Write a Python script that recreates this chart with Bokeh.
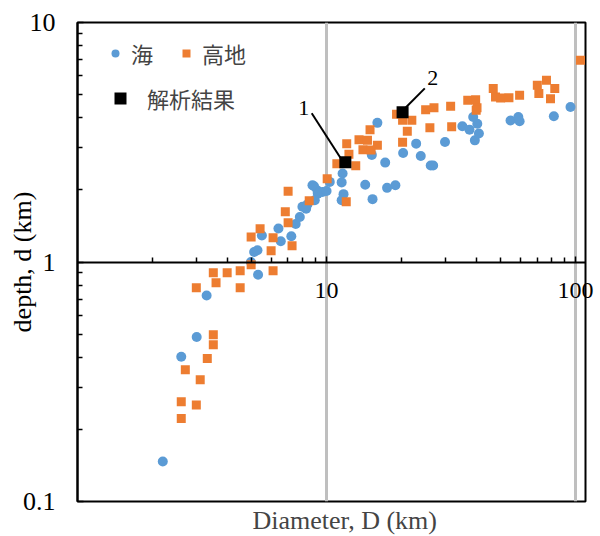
from bokeh.plotting import figure
from bokeh.models import (FixedTicker, CustomJSTickFormatter, Legend, LegendItem, Title)
from bokeh.embed import file_html
from bokeh.resources import INLINE
from bokeh.core.properties import value

# ---- data ----
sea_D = [2.20, 2.61, 3.01, 3.30, 5.31, 4.97, 5.12, 5.28, 5.50, 6.41, 6.55, 7.22, 7.52, 7.81,
         8.00, 8.28, 8.91, 9.19, 9.22, 8.97, 9.63, 10.0, 10.3, 11.6, 11.5, 11.7, 11.5, 14.3,
         15.3, 17.5, 18.9, 16.0, 17.2, 15.2, 20.3, 22.9, 23.9, 26.2, 26.8, 29.9, 35.1, 37.5,
         39.4, 38.8, 40.3, 40.9, 54.8, 58.9, 59.6, 81.8, 95.4, 8.38, 8.78]
sea_d = [0.147, 0.402, 0.486, 0.725, 0.885, 1.00, 1.10, 1.12, 1.29, 1.38, 1.22, 1.28, 1.44, 1.54,
         1.70, 1.67, 2.07, 1.99, 1.93, 1.81, 1.96, 1.98, 2.16, 2.34, 2.15, 1.92, 1.81, 2.10,
         1.83, 2.04, 2.09, 3.81, 2.60, 2.80, 2.85, 3.12, 2.77, 2.53, 2.53, 3.17, 3.69, 3.57,
         3.22, 4.03, 3.78, 3.44, 3.90, 4.03, 3.87, 4.06, 4.44, 1.74, 2.09]

high_D = [2.61, 2.61, 3.00, 3.11, 2.71, 3.32, 3.51, 3.51, 3.00, 3.60, 4.50, 3.51, 3.99, 4.50,
          4.98, 6.10, 5.99, 4.98, 5.41, 6.10, 7.27, 6.83, 7.01, 7.01, 8.52, 10.06, 11.0, 12.0,
          13.1, 12.3, 12.05, 13.5, 14.6, 14.95, 16.0, 14.0, 15.1, 19.1, 20.2, 22.0, 21.1, 20.2,
          25.0, 27.0, 31.5, 26.0, 31.8, 36.9, 39.7, 40.2, 39.9, 46.7, 47.7, 50.0, 54.0, 59.6,
          70.2, 71.2, 76.4, 82.5, 79.3, 104.6]
high_d = [0.261, 0.222, 0.253, 0.322, 0.355, 0.395, 0.497, 0.451, 0.781, 0.820, 0.781, 0.902, 0.902, 0.920,
          0.974, 0.920, 1.115, 1.273, 1.378, 1.264, 1.170, 1.622, 1.459, 1.972, 1.803, 2.224, 2.569, 1.786,
          2.520, 2.815, 3.12, 3.236, 3.221, 3.569, 3.069, 2.939, 2.933, 4.136, 3.904, 3.904, 3.512, 3.160,
          4.327, 4.411, 4.467, 3.639, 3.667, 4.732, 4.755, 4.411, 4.298, 5.296, 4.884, 4.837, 4.856, 4.965,
          5.467, 5.047, 5.736, 5.296, 4.81, 6.953]

res_D = [11.9, 20.2]
res_d = [2.61, 4.22]
res_labels = ["1", "2"]
label_D = [8.10, 26.7]
label_d = [4.38, 5.85]
leader_D0 = [8.72, 24.8]
leader_d0 = [4.18, 5.31]
leader_D1 = [11.4, 20.8]
leader_d1 = [2.71, 4.42]

x_major = [10, 100]
x_tick_labels = ["10", "100"]
x_minor = [2, 3, 4, 5, 6, 7, 8, 9, 20, 30, 40, 50, 60, 70, 80, 90]
x_axis_at = 1
y_major = [0.1, 1, 10]
y_minor = [0.2, 0.3, 0.4, 0.5, 0.6, 0.7, 0.8, 0.9, 2, 3, 4, 5, 6, 7, 8, 9]

SERIF = "Liberation Serif"
CJK = "Noto Sans CJK JP"

p = figure(x_axis_type="log", y_axis_type="log", x_range=(1, 109.6), y_range=(0.1, 10),
           frame_width=508, frame_height=479, min_border_left=77, min_border_top=22,
           min_border_right=13, min_border_bottom=0,
           output_backend="svg", toolbar_location=None)
p.title.visible = False
p.outline_line_color = "black"
p.outline_line_width = 2
p.outline_line_alpha = 1

fmt = CustomJSTickFormatter(code="return tick.toString();")

xt = FixedTicker(ticks=x_major, minor_ticks=x_minor)
xa = p.xaxis[0]
xa.ticker = xt
xa.formatter = fmt
xa.fixed_location = x_axis_at
xa.axis_line_width = 2
xa.major_tick_in = 6
xa.major_tick_out = 0
xa.minor_tick_in = 5
xa.minor_tick_out = 0
xa.major_tick_line_width = 1.5
xa.minor_tick_line_width = 1.5
# the axis sits inside the frame and is clipped to it; its labels are drawn unclipped below
xa.major_label_text_alpha = 0

p.xgrid.ticker = xt
p.xgrid.grid_line_color = "#bfbfbf"
p.xgrid.grid_line_width = 3
p.ygrid.visible = False

yt = FixedTicker(ticks=y_major, minor_ticks=y_minor)
ya = p.yaxis[0]
ya.ticker = yt
ya.formatter = fmt
ya.axis_line_width = 2
ya.major_tick_in = 6
ya.major_tick_out = 0
ya.minor_tick_in = 5
ya.minor_tick_out = 0
ya.major_tick_line_width = 1.5
ya.minor_tick_line_width = 1.5
ya.major_label_standoff = 22
ya.major_label_text_font = SERIF
ya.major_label_text_font_size = "26px"
ya.major_label_text_color = "black"
ya.axis_label = "depth, d (km)"
ya.axis_label_text_font = SERIF
ya.axis_label_text_font_size = "26px"
ya.axis_label_text_font_style = "normal"
ya.axis_label_text_color = "black"
ya.axis_label_standoff = -17

p.add_layout(Title(text="Diameter, D (km)", align="left", text_font=SERIF,
                   text_font_size="26px", text_font_style="normal", standoff=5, offset=175),
             "below")

r_sea = p.scatter(sea_D, sea_d, marker="circle", size=10, fill_color="#5B9BD5", line_color=None)
r_high = p.scatter(high_D, high_d, marker="square", size=9, fill_color="#ED7D31", line_color=None)
r_res = p.scatter(res_D, res_d, marker="square", size=12, fill_color="black", line_color=None)

p.segment(x0=leader_D0, y0=leader_d0, x1=leader_D1, y1=leader_d1, line_color="black", line_width=2)
p.text(x=label_D, y=label_d, text=res_labels, text_font=value(SERIF), text_font_size="22px",
       text_align="center", text_baseline="middle", text_color="black")

# x tick labels under the inner axis line (not clipped to the frame)
p.text(x=x_major, y=[x_axis_at] * len(x_major), text=x_tick_labels, text_font=value(SERIF),
       text_font_size="24px", text_align="center", text_baseline="top", y_offset=21,
       text_color="black", level="annotation")

leg1 = Legend(items=[LegendItem(label="海", renderers=[r_sea]),
                     LegendItem(label="高地", renderers=[r_high])],
              orientation="horizontal", location=(28, 432),
              border_line_color=None, background_fill_alpha=0, padding=0, margin=0,
              spacing=23, label_standoff=6, glyph_width=20, glyph_height=20,
              label_text_font=CJK, label_text_font_size="22px")
leg2 = Legend(items=[LegendItem(label="解析結果", renderers=[r_res])],
              location=(28, 387),
              border_line_color=None, background_fill_alpha=0, padding=0, margin=0,
              label_standoff=12, glyph_width=30, glyph_height=30,
              label_text_font=CJK, label_text_font_size="22px")
p.add_layout(leg1)
p.add_layout(leg2)

open("out.html", "w").write(file_html(p, INLINE))
